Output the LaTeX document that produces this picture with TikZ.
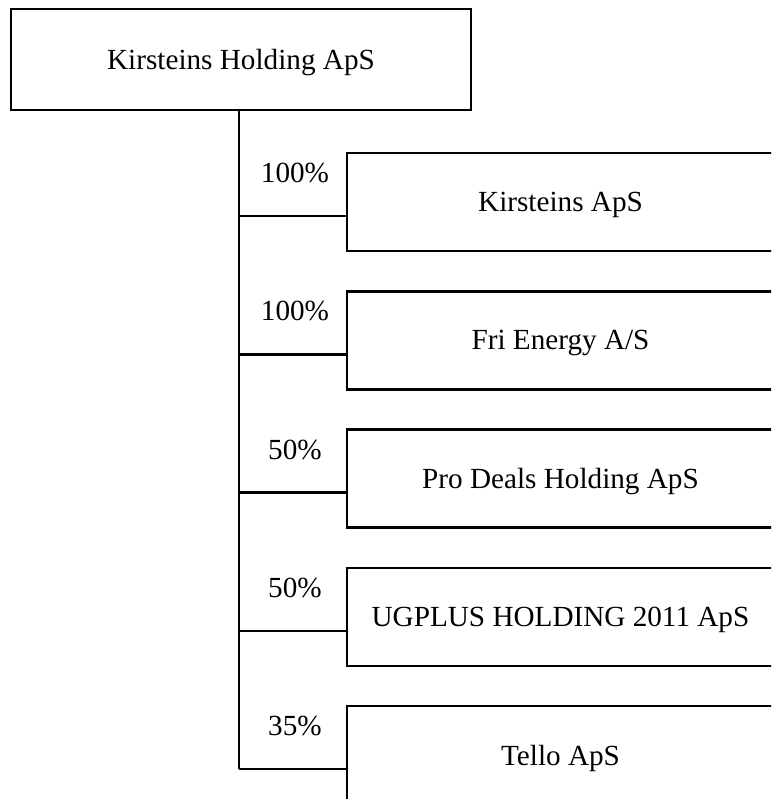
\documentclass[tikz,border=0pt]{standalone}
\usepackage{fontspec}
\setmainfont{Liberation Serif}
\begin{document}
\begin{tikzpicture}[x=1pt,y=-1pt,
  box/.style={draw,line width=2.5pt,rectangle,inner sep=0pt,text depth=0pt,font=\fontsize{29.2}{35}\selectfont},
  child/.style={box,minimum width=427pt,minimum height=98pt},
  pct/.style={inner sep=0pt,font=\fontsize{29.2}{35}\selectfont},
  link/.style={line width=2.5pt}]
\useasboundingbox (0,0) rectangle (771,799);
\clip (0,0) rectangle (771,799);
\node[box,minimum width=460pt,minimum height=101pt] (hold) at (241,59.5) {Kirsteins Holding ApS};
\coordinate (trunk) at (239,110);
% children (tops at 153 + 138.3 k)
\node[child] (c1) at (560.5,202.0) {Kirsteins ApS};
\node[child] (c2) at (560.5,340.3) {Fri Energy A/S};
\node[child] (c3) at (560.5,478.6) {Pro Deals Holding ApS};
\node[child] (c4) at (560.5,616.9) {UGPLUS HOLDING 2011 ApS};
\node[child] (c5) at (560.5,755.2) {Tello ApS};
\node[pct] (p1) at (295,173.0) {100\%};
\node[pct] (p2) at (295,311.3) {100\%};
\node[pct] (p3) at (295,449.6) {50\%};
\node[pct] (p4) at (295,587.9) {50\%};
\node[pct] (p5) at (295,726.2) {35\%};
\coordinate (j1) at (239,216.0);
\coordinate (j2) at (239,354.3);
\coordinate (j3) at (239,492.6);
\coordinate (j4) at (239,630.9);
\coordinate (j5) at (239,769.2);
\foreach \i in {1,...,5}{
  \draw[link] (j\i) -- (j\i -| c\i.west);
}
\draw[link] (trunk) -- (j5);
\end{tikzpicture}
\end{document}
